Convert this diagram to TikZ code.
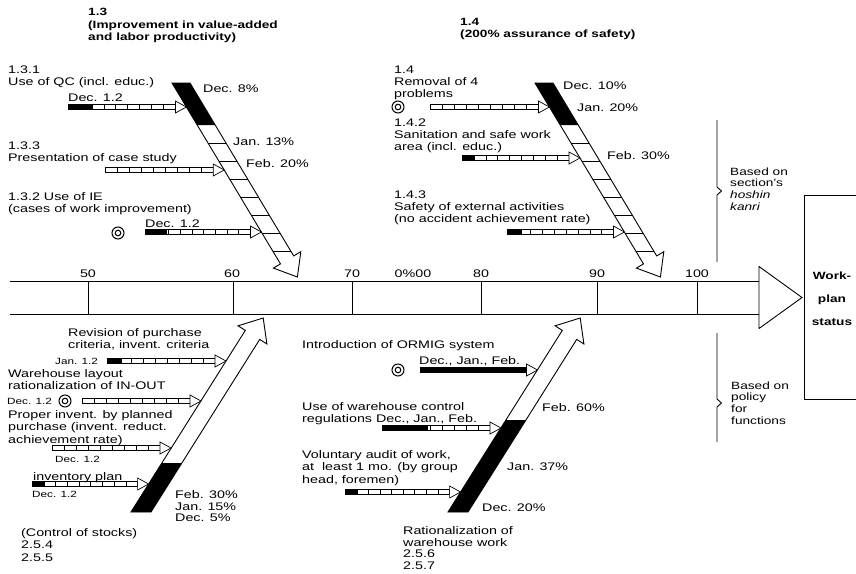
\documentclass[tikz,border=0pt]{standalone}
\usepackage{fontspec}
\setmainfont{Liberation Sans}[FakeStretch=1.3]
\begin{document}
\begin{tikzpicture}[x=1pt,y=-1pt,
  txt/.style={anchor=north west, inner sep=0pt, align=left, font=\fontsize{11}{12.3}\selectfont, execute at begin node=\strut},
  btxt/.style={anchor=north west, inner sep=0pt, align=left, font=\fontsize{10.5}{12.3}\selectfont\bfseries, execute at begin node=\strut},
  ntxt/.style={anchor=north west, inner sep=0pt, align=left, font=\fontsize{10.5}{11.7}\selectfont, execute at begin node=\strut},
  ttxt/.style={anchor=north west, inner sep=0pt, align=left, font=\fontsize{11}{11.7}\selectfont, execute at begin node=\strut},
  stxt/.style={anchor=west, inner sep=0pt, font=\fontsize{9}{10}\selectfont},
  sptxt/.style={anchor=base, inner sep=0pt, font=\fontsize{11}{12}\selectfont},
  ln/.style={line width=0.9pt, line join=miter},
  bl/.style={line width=0.7pt}
]
\useasboundingbox (0,0) rectangle (856,573);

% ---------- main spine ----------
\draw[ln] (10,281) -- (759,281);
\draw[ln] (10,314) -- (759,314);
\foreach \xx in {88,233,352,481,597,697} \draw[ln] (\xx,281) -- (\xx,314);
\draw[ln] (759,266.5) -- (802,297.5) -- (759,328.5) -- cycle;
\node[sptxt] (s50) at (88,277) {50};
\node[sptxt] (s60) at (232,277) {60};
\node[sptxt] (s70) at (352,277) {70};
\node[sptxt] (s00) at (413,277) {0\%00};
\node[sptxt] (s80) at (481,277) {80};
\node[sptxt] (s90) at (597,277) {90};
\node[sptxt] (s100) at (697,277) {100};

% ---------- result box ----------
\draw[ln] (856,195) -- (804,195) -- (804,399) -- (856,399);
\node[anchor=base, inner sep=0pt, font=\fontsize{10.5}{12}\selectfont\bfseries] (w1) at (832,279) {Work-};
\node[anchor=base, inner sep=0pt, font=\fontsize{10.5}{12}\selectfont\bfseries] (w2) at (832,302) {plan};
\node[anchor=base, inner sep=0pt, font=\fontsize{10.5}{12}\selectfont\bfseries] (w3) at (832,325) {status};

% ---------- braces ----------
\draw[ln] (717,120) -- (717,187) -- (721.5,191) -- (717,195) -- (717,262);
\draw[ln] (717,333) -- (717,399) -- (721.5,403) -- (717,407) -- (717,442);
\node[ntxt] (bs1) at (730,167.4) {Based on\\section's\\\textit{hoshin}\\\textit{kanri}};
\node[ntxt] (bs2) at (731,381.4) {Based on\\policy\\for\\functions};

% ---------- down-right hatched arrows (1.3 and 1.4) ----------
\foreach \sh in {0,363}{
\begin{scope}[shift={(\sh,0)}]
  \draw[ln, fill=white] (172,83) -- (190,83) -- (293.7,255.9) -- (300.8,251.7) -- (297.4,277) -- (273.4,268.1) -- (280.5,263.9) -- cycle;
  \fill (172,83) -- (190,83) -- (215.2,125) -- (197.2,125) -- cycle;
  \foreach \yy in {143,161,...,251} \draw[ln] ({172+0.6*(\yy-83)},\yy) -- ++(18,0);
\end{scope}}

% ---------- up-right arrows (stocks, warehouse) ----------
\draw[ln, fill=white] (131,512) -- (151,512) -- (259.7,339.4) -- (266.9,344.0) -- (263.2,318) -- (238.1,325.8) -- (245.3,330.4) -- cycle;
\fill (131,512) -- (151,512) -- (181.9,463) -- (161.9,463) -- cycle;
\begin{scope}[shift={(317,0)}]
  \draw[ln, fill=white] (131,512) -- (151,512) -- (259.7,339.4) -- (266.9,344.0) -- (263.2,318) -- (238.1,325.8) -- (245.3,330.4) -- cycle;
  \fill (131,512) -- (151,512) -- (209,420) -- (189,420) -- cycle;
\end{scope}

% ---------- timeline bars ----------
\newcommand\tbar[4]{%
  \pgfmathsetmacro\tbhb{#2-11}%
  \draw[bl, fill=white] (#1,#3-2.5) rectangle (\tbhb,#3+2.5);
  \foreach \k in {1,...,8}{\draw[line width=0.5pt] ({#1+\k*(\tbhb-#1)/9},#3-2.5) -- ++(0,5);}
  \fill (#1,#3-2.5) rectangle (#4,#3+2.5);
  \draw[bl] (#1,#3-2.5) rectangle (\tbhb,#3+2.5);
  \draw[bl, fill=white] (\tbhb,#3-6) -- (#2,#3) -- (\tbhb,#3+6) -- cycle;
}
\newcommand\dcirc[2]{\draw[line width=1pt] (#1,#2) circle (6) (#1,#2) circle (2.8);}

\tbar{68}{186.4}{107}{92}
\tbar{105}{224.2}{170}{105}
\tbar{145}{261.4}{232}{167}
\tbar{107}{226}{361}{122}
\tbar{82}{201}{401}{82}
\tbar{52}{171}{448}{52}
\tbar{32}{148.6}{484}{45}
\tbar{430}{549.4}{107}{430}
\tbar{462}{580}{158}{475}
\tbar{507}{624.4}{232}{522}
\tbar{420}{537.5}{370}{526.5}
\tbar{382}{501}{428}{428}
\tbar{345}{460.6}{492}{358}

\dcirc{118}{233}
\dcirc{65}{401}
\dcirc{398}{107}
\dcirc{398}{370}

% ---------- titles ----------
\node[btxt] (h13) at (88,8.4) {1.3\\(Improvement in value-added\\and labor productivity)};
\node[btxt] (h14) at (460,17.9) {1.4\\(200\% assurance of safety)};

% ---------- 1.3 group ----------
\node[txt] (a1) at (8,65.4) {1.3.1\\Use of QC (incl. educ.)};
\node[txt] (a1d) at (68,92.4) {Dec. 1.2};
\node[txt] (a2) at (8,141.4) {1.3.3\\Presentation of case study};
\node[txt] (a3) at (8,192.4) {1.3.2 Use of IE\\(cases of work improvement)};
\node[txt] (a3d) at (145,218.4) {Dec. 1.2};
\node[txt] (ap1) at (203,83.4) {Dec. 8\%};
\node[txt] (ap2) at (233,136.4) {Jan. 13\%};
\node[txt] (ap3) at (246,158.4) {Feb. 20\%};

% ---------- 1.4 group ----------
\node[txt] (b1) at (394,65.4) {1.4\\Removal of 4\\problems};
\node[txt] (b2) at (394,118.4) {1.4.2\\Sanitation and safe work\\area (incl. educ.)};
\node[txt] (b3) at (394,190.4) {1.4.3\\Safety of external activities\\(no accident achievement rate)};
\node[txt] (bp1) at (563,80.4) {Dec. 10\%};
\node[txt] (bp2) at (577,102.4) {Jan. 20\%};
\node[txt] (bp3) at (607,150.4) {Feb. 30\%};

% ---------- stocks group ----------
\node[txt] (c1) at (68,328.4) {Revision of purchase\\criteria, invent. criteria};
\node[stxt] (c1d) at (55,361) {Jan. 1.2};
\node[txt] (c2) at (8,369.4) {Warehouse layout\\rationalization of IN-OUT};
\node[stxt] (c2d) at (7,401) {Dec. 1.2};
\node[txt] (c3) at (8,410.4) {Proper invent. by planned\\purchase (invent. reduct.\\achievement rate)};
\node[stxt] (c3d) at (55,459) {Dec. 1.2};
\node[txt] (c4) at (33,471.4) {inventory plan};
\node[stxt] (c4d) at (32,494) {Dec. 1.2};
\node[ttxt] (cp) at (175,490.4) {Feb. 30\%\\Jan. 15\%\\Dec. 5\%};
\node[txt] (cc) at (21,528.4) {(Control of stocks)\\2.5.4\\2.5.5};

% ---------- warehouse group ----------
\node[txt] (d1) at (302,339.4) {Introduction of ORMIG system};
\node[txt] (d1d) at (419,355.4) {Dec., Jan., Feb.};
\node[txt] (d2) at (302,402.4) {Use of warehouse control\\regulations Dec., Jan., Feb.};
\node[txt] (d3) at (302,450.4) {Voluntary audit of work,\\at\ \ least 1 mo. (by group\\head, foremen)};
\node[txt] (dp1) at (542,402.4) {Feb. 60\%};
\node[txt] (dp2) at (507,461.4) {Jan. 37\%};
\node[txt] (dp3) at (482,502.4) {Dec. 20\%};
\node[ttxt] (dd) at (403,526.2) {Rationalization of\\warehouse work\\2.5.6\\2.5.7};
\end{tikzpicture}
\end{document}
